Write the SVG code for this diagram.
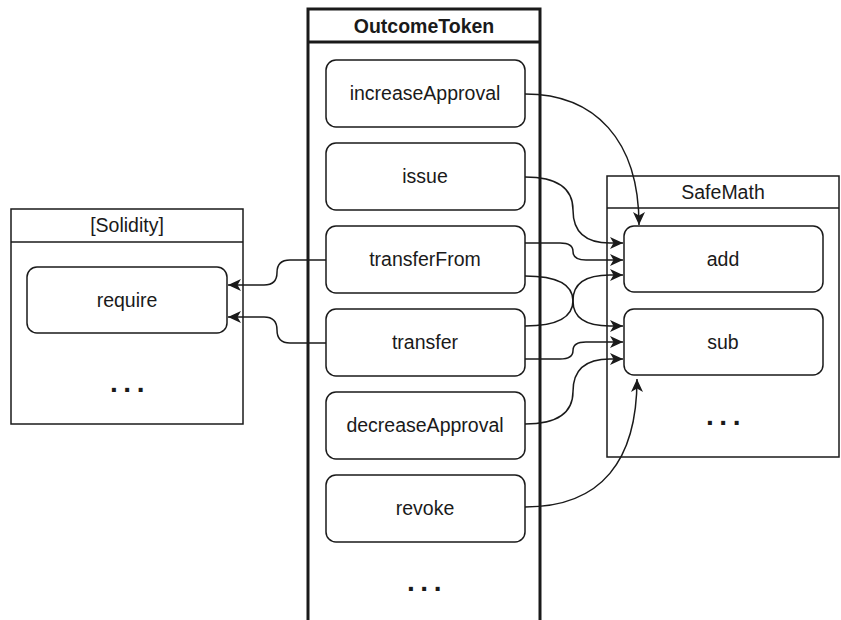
<svg xmlns="http://www.w3.org/2000/svg" width="841" height="620" viewBox="0 0 841 620">
<style>
.box{fill:#fff;stroke:#1a1a1a;stroke-width:1.5}
.node{fill:#fff;stroke:#1a1a1a;stroke-width:1.5}
.t{font-family:"Liberation Sans",Arial,sans-serif;font-size:19.5px;fill:#1a1a1a;text-anchor:middle}
.b{font-weight:bold}
.dots{font-family:"Liberation Sans",Arial,sans-serif;font-size:28px;font-weight:bold;letter-spacing:5.5px;fill:#1a1a1a;text-anchor:middle}
.c{fill:none;stroke:#1a1a1a;stroke-width:1.5;marker-end:url(#arr)}
</style>
<defs>
<marker id="arr" markerUnits="userSpaceOnUse" markerWidth="14" markerHeight="12" viewBox="0 0 14 12" refX="13" refY="6" orient="auto">
<path d="M0,0 L13,6 L0,12 L3.5,6 Z" fill="#1a1a1a"/>
</marker>
</defs>
<rect width="841" height="620" fill="#fff"/>

<g id="solidity">
<rect class="box" x="11" y="209" width="232" height="215"/>
<line x1="11" y1="242" x2="243" y2="242" stroke="#1a1a1a" stroke-width="1.5"/>
<text class="t" x="127" y="232">[Solidity]</text>
<text class="dots" x="130" y="392">...</text>
</g>
<g id="require">
<rect class="node" x="27" y="267" width="200" height="66" rx="10"/>
<text class="t" x="127" y="307">require</text>
</g>

<g id="safemath">
<rect class="box" x="607" y="176" width="232" height="281"/>
<line x1="607" y1="208" x2="839" y2="208" stroke="#1a1a1a" stroke-width="1.5"/>
<text class="t" x="723" y="199">SafeMath</text>
<text class="dots" x="726" y="425">...</text>
</g>
<g id="add">
<rect class="node" x="624" y="226" width="199" height="66" rx="10"/>
<text class="t" x="723" y="266">add</text>
</g>
<g id="sub">
<rect class="node" x="624" y="309" width="199" height="66" rx="10"/>
<text class="t" x="723" y="349">sub</text>
</g>

<g id="outcometoken">
<path d="M308,620 L308,9 L540,9 L540,620" fill="#fff" stroke="#1a1a1a" stroke-width="3"/>
<line x1="308" y1="42" x2="540" y2="42" stroke="#1a1a1a" stroke-width="3"/>
<text class="t b" x="424" y="33">OutcomeToken</text>
<text class="dots" x="427" y="591">...</text>
</g>
<g id="increaseApproval">
<rect class="node" x="326" y="60" width="199" height="67" rx="10"/>
<text class="t" x="425" y="100">increaseApproval</text>
</g>
<g id="issue">
<rect class="node" x="326" y="143" width="199" height="67" rx="10"/>
<text class="t" x="425" y="183">issue</text>
</g>
<g id="transferFrom">
<rect class="node" x="326" y="226" width="199" height="67" rx="10"/>
<text class="t" x="425" y="266">transferFrom</text>
</g>
<g id="transfer">
<rect class="node" x="326" y="309" width="199" height="67" rx="10"/>
<text class="t" x="425" y="349">transfer</text>
</g>
<g id="decreaseApproval">
<rect class="node" x="326" y="392" width="199" height="67" rx="10"/>
<text class="t" x="425" y="432">decreaseApproval</text>
</g>
<g id="revoke">
<rect class="node" x="326" y="475" width="199" height="67" rx="10"/>
<text class="t" x="425" y="515">revoke</text>
</g>

<g id="connectors">
<path class="c" d="M525,94 C595,94 639,140 639,225"/>
<path class="c" d="M525,177 Q573,177 573,210 Q573,243 610,243 L623,243"/>
<path class="c" d="M525,243 L560,243 Q573,243 573,251.5 Q573,260 586,260 L623,260"/>
<path class="c" d="M525,276 Q573,276 573,301 Q573,326 610,326 L623,326"/>
<path class="c" d="M525,326 Q573,326 573,300.5 Q573,275 610,275 L623,275"/>
<path class="c" d="M525,359 L560,359 Q573,359 573,350.5 Q573,342 586,342 L623,342"/>
<path class="c" d="M525,424 Q573,424 573,391.5 Q573,359 610,359 L623,359"/>
<path class="c" d="M525,507 C602,507 637,460 637,379"/>
<path class="c" d="M326,260 L290,260 Q277,260 277,272.5 Q277,285 264,285 L228,285"/>
<path class="c" d="M326,343 L290,343 Q277,343 277,330 Q277,317 264,317 L228,317"/>
</g>
</svg>
